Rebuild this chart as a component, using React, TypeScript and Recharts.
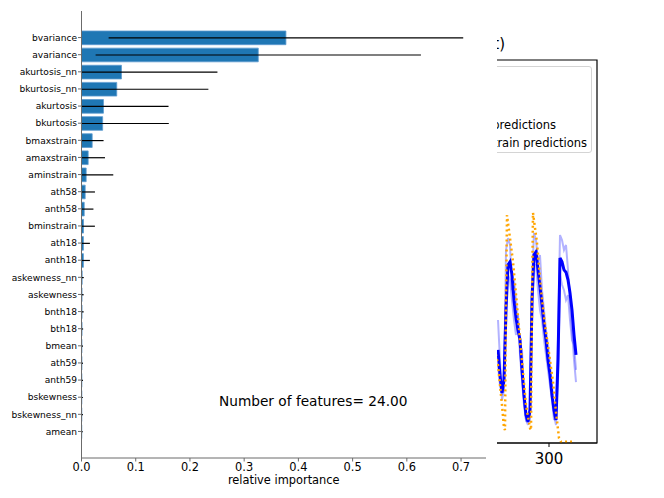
import { BarChart, Bar, XAxis, YAxis, ErrorBar, LineChart, Line, ReferenceArea } from 'recharts';

// feature importance (top to bottom)
const features = [
  'bvariance', 'avariance', 'akurtosis_nn', 'bkurtosis_nn', 'akurtosis', 'bkurtosis',
  'bmaxstrain', 'amaxstrain', 'aminstrain', 'ath58', 'anth58', 'bminstrain',
  'ath18', 'anth18', 'askewness_nn', 'askewness', 'bnth18', 'bth18',
  'bmean', 'ath59', 'anth59', 'bskewness', 'bskewness_nn', 'amean',
];
const importance = [
  0.377, 0.326, 0.0737, 0.065, 0.0405, 0.039,
  0.0197, 0.0123, 0.0086, 0.0068, 0.005, 0.0037,
  0.0035, 0.0035, 0.0012, 0.001, 0.001, 0.001,
  0.0008, 0.0008, 0.0007, 0.0006, 0.0006, 0.0005,
];
const importanceStd = [
  0.327, 0.3, 0.177, 0.169, 0.12, 0.122,
  0.021, 0.031, 0.05, 0.018, 0.017, 0.021,
  0.012, 0.012, 0.003, 0.003, 0.003, 0.002,
  0.002, 0.002, 0.002, 0.002, 0.002, 0.002,
];
const xTicks = [0, 0.1, 0.2, 0.3, 0.4, 0.5, 0.6, 0.7];

// the prediction plot peeking out behind
const predX = [
  249, 251, 253, 255, 257, 259, 261, 263, 265, 267,
  269, 271, 273, 275, 277, 279, 281, 283, 285, 287,
  289, 291, 293, 295, 297, 299, 301, 303, 305, 307,
  309, 311, 313, 315, 317, 319, 321, 323, 325, 327,
];
const predMean = [
  24.3, 17.8, 13.1, 16.4, 34.7, 46.5, 47.3, 43.9, 37.3, 32.6,
  29.5, 26.9, 19.1, 12.5, 7.3, 5.5, 8.6, 37.3, 49.1, 49.9,
  45.2, 40.7, 36.0, 30.8, 26.9, 21.7, 17.8, 12.5, 8.6, 6.0,
  21.7, 48.3, 47.3, 45.2, 44.6, 42.6, 39.2, 34.7, 28.2, 23.0,
];
const predRunA = [
  32.1, 21.7, 11.2, 13.8, 50.4, 53.5, 51.7, 39.9, 42.6, 37.3,
  32.1, 25.6, 24.3, 11.2, 6.0, 4.7, 9.9, 42.6, 54.8, 53.0,
  47.3, 49.1, 39.9, 34.7, 29.5, 25.6, 20.4, 15.1, 7.3, 4.7,
  26.9, 54.3, 53.0, 50.4, 51.7, 45.2, 37.3, 29.5, 21.7, 15.9,
];
const predRunB = [
  20.4, 15.1, 12.5, 19.1, 39.9, 43.9, 42.6, 37.3, 32.1, 28.2,
  33.4, 23.0, 16.4, 9.9, 6.0, 6.5, 6.0, 32.1, 46.5, 46.5,
  39.9, 34.7, 32.1, 26.9, 23.0, 19.1, 15.1, 11.2, 6.0, 7.3,
  16.4, 43.9, 41.3, 39.9, 37.3, 38.6, 32.1, 26.9, 25.6, 19.1,
];
const trueX = [
  241, 247, 249, 251, 253, 255, 256, 257, 258, 261, 264, 268, 271, 274,
  277, 281, 282, 283, 284, 288, 292, 296, 300, 304, 307, 310, 312, 317, 323,
];
const trueY = [
  29.5, 23.0, 20.4, 15.1, 9.9, 3.9, 3.4, 37.3, 59.5, 53.5, 47.3, 36.0, 26.9, 18.5,
  9.9, 3.9, 3.4, 37.3, 60.1, 52.2, 39.9, 30.8, 23.5, 15.9, 8.1, 1.3, 0.3, 0.3, 0.3,
];

// error bars are clipped at the x=0 axis, like the original axes
const barData = features.map((name, i) => ({
  name,
  value: importance[i],
  err: [Math.min(importanceStd[i], importance[i]), importanceStd[i]],
}));
const predData = predX.map((x, i) => ({ x, mean: predMean[i], a: predRunA[i], b: predRunB[i] }));
const trueData = trueX.map((x, i) => ({ x, y: trueY[i] }));

const font = 'DejaVu Sans';
const spine = '#6b6b6b';

export default function App() {
  return (
    <div style={{ position: 'absolute', left: 0, top: 0, width: 664, height: 498, background: '#fff', overflow: 'hidden', fontFamily: font }}>
      {/* background figure */}
      <div style={{ position: 'absolute', left: 0, top: 0 }}>
        <LineChart width={664} height={498} margin={{ top: 60, right: 67, left: 400, bottom: 25 }}>
          <XAxis type="number" dataKey="x" domain={[151, 348]} allowDataOverflow ticks={[300]} height={30}
            stroke="#000" tick={{ fontSize: 15, fill: '#000', fontFamily: font }} tickSize={4} tickMargin={6} />
          <YAxis type="number" domain={[0, 100]} hide allowDataOverflow />
          <ReferenceArea x1={151} x2={348} y1={0} y2={100} fill="none" stroke="#000" strokeWidth={1.2} />
          <Line data={predData} dataKey="a" stroke="#0000ff" strokeOpacity={0.3} strokeWidth={2} dot={false} isAnimationActive={false} />
          <Line data={predData} dataKey="b" stroke="#0000ff" strokeOpacity={0.3} strokeWidth={2} dot={false} isAnimationActive={false} />
          <Line data={predData} dataKey="mean" stroke="#0000ff" strokeWidth={3} dot={false} isAnimationActive={false} />
          <Line data={trueData} dataKey="y" stroke="#ffa500" strokeWidth={2.5} strokeDasharray="2 3" dot={false} isAnimationActive={false} />
        </LineChart>
        <div style={{ position: 'absolute', left: 400, top: 66, width: 192, height: 87, border: '1px solid #d4d4d4', borderRadius: 3, boxSizing: 'border-box', background: '#fff' }} />
        <div style={{ position: 'absolute', right: 108, top: 118, fontSize: 11.5, lineHeight: '14px', whiteSpace: 'nowrap' }}>test predictions</div>
        <div style={{ position: 'absolute', right: 77, top: 136, fontSize: 11.5, lineHeight: '14px', whiteSpace: 'nowrap' }}>train predictions</div>
        <div style={{ position: 'absolute', right: 159, top: 35, fontSize: 15, lineHeight: '18px', whiteSpace: 'nowrap' }}>Predictions (test)</div>
      </div>

      {/* feature importance figure */}
      <div style={{ position: 'absolute', left: 0, top: 0, width: 497, height: 498, background: '#fff' }}>
        <BarChart width={497} height={498} layout="vertical" data={barData} margin={{ top: 11, right: 11, left: 0, bottom: 0 }}>
          <XAxis type="number" domain={[0, 0.746]} allowDataOverflow ticks={xTicks} tickFormatter={(v: number) => v.toFixed(1)}
            height={40} axisLine={{ stroke: spine }} tickLine={{ stroke: spine }} tickSize={3.5} tickMargin={1.5}
            tick={{ fontSize: 11.4, fill: '#000', fontFamily: font }}
            label={{ value: 'relative importance', position: 'insideBottom', offset: 14, fontSize: 11.4, fill: '#000', fontFamily: font }} />
          <XAxis xAxisId="top" orientation="top" type="number" domain={[0, 0.746]} height={0} tick={false} tickLine={false} axisLine={{ stroke: spine }} />
          <YAxis type="category" dataKey="name" width={81.5} padding={{ top: 18, bottom: 18 }} interval={0}
            axisLine={{ stroke: spine }} tickLine={{ stroke: spine }} tickSize={3.5} tickMargin={1}
            tick={{ fontSize: 9.1, fill: '#000', fontFamily: font }} />
          <YAxis yAxisId="right" orientation="right" type="category" dataKey="name" width={0} tick={false} tickLine={false} axisLine={{ stroke: spine }} />
          <Bar dataKey="value" fill="#1f77b4" stroke="#5d9bcf" strokeWidth={0.8} barSize={13.7} isAnimationActive={false}>
            <ErrorBar dataKey="err" direction="x" width={0} stroke="#000" strokeWidth={1.2} />
          </Bar>
        </BarChart>
        <div style={{ position: 'absolute', left: 219, top: 393, fontSize: 13.7, lineHeight: '16px', whiteSpace: 'nowrap' }}>Number of features= 24.00</div>
      </div>
    </div>
  );
}
